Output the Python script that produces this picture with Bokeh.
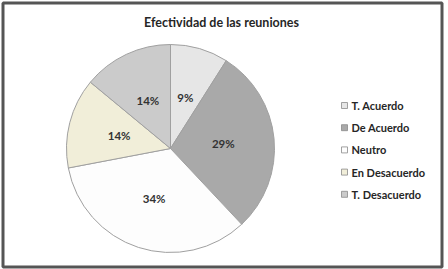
import math
from bokeh.plotting import figure
from bokeh.models import Range1d, ColumnDataSource
from bokeh.core.properties import value
from bokeh.embed import file_html
from bokeh.resources import INLINE

title = "Efectividad de las reuniones"
categories = ["T. Acuerdo", "De Acuerdo", "Neutro", "En Desacuerdo", "T. Desacuerdo"]
percents = [9, 29, 34, 14, 14]
colors = ["#e6e6e6", "#a9a9a9", "#fdfdfd", "#f1eed9", "#cbcbcb"]

W, H = 448, 269
p = figure(width=W, height=H, output_backend="svg", toolbar_location=None,
           x_range=Range1d(0, W), y_range=Range1d(0, H), min_border=0)
p.axis.visible = False
p.grid.visible = False
p.outline_line_color = None
p.background_fill_color = "white"
p.border_fill_color = "white"

# frame
p.quad(left=2.5, right=441.5, bottom=H - 266.5, top=H - 2.5, fill_color=None,
       line_color="#555555", line_width=3)

# pie
cx, cy, R = 170, H - 148, 104
total = sum(percents)
starts, ends, lx, ly = [], [], [], []
acc = 0
for v in percents:
    a0 = math.pi / 2 - 2 * math.pi * acc / total
    acc += v
    a1 = math.pi / 2 - 2 * math.pi * acc / total
    starts.append(a0)
    ends.append(a1)
    mid = (a0 + a1) / 2
    lx.append(cx + 0.51 * R * math.cos(mid))
    ly.append(cy + 0.51 * R * math.sin(mid))

src = ColumnDataSource(dict(start=starts, end=ends, color=colors,
                            lx=lx, ly=ly, lab=[f"{v}%" for v in percents]))
p.wedge(x=cx, y=cy, radius=R, start_angle="start", end_angle="end",
        direction="clock", fill_color="color", line_color="#a0a0a0",
        line_width=1, source=src)
p.text(x="lx", y="ly", text="lab", source=src, text_align="center",
       text_baseline="middle", text_font=value("Lato"), text_font_style="bold",
       text_font_size="11.5px", text_color="#333333")

# title
p.text(x=[221], y=[H - 22], text=[title], text_align="center",
       text_baseline="middle", text_font=value("Lato"), text_font_style="bold",
       text_font_size="12.5px", text_color="#262626")

# legend
ys = [H - (105 + 22.2 * i) for i in range(len(categories))]
p.rect(x=[344] * len(categories), y=ys, width=6, height=6, fill_color=colors,
       line_color="#8a8a8a", line_width=0.8)
p.text(x=[351] * len(categories), y=ys, text=categories, text_align="left",
       text_baseline="middle", text_font=value("Lato"), text_font_style="bold",
       text_font_size="11px", text_color="#262626")

open("out.html", "w").write(file_html(p, INLINE))
